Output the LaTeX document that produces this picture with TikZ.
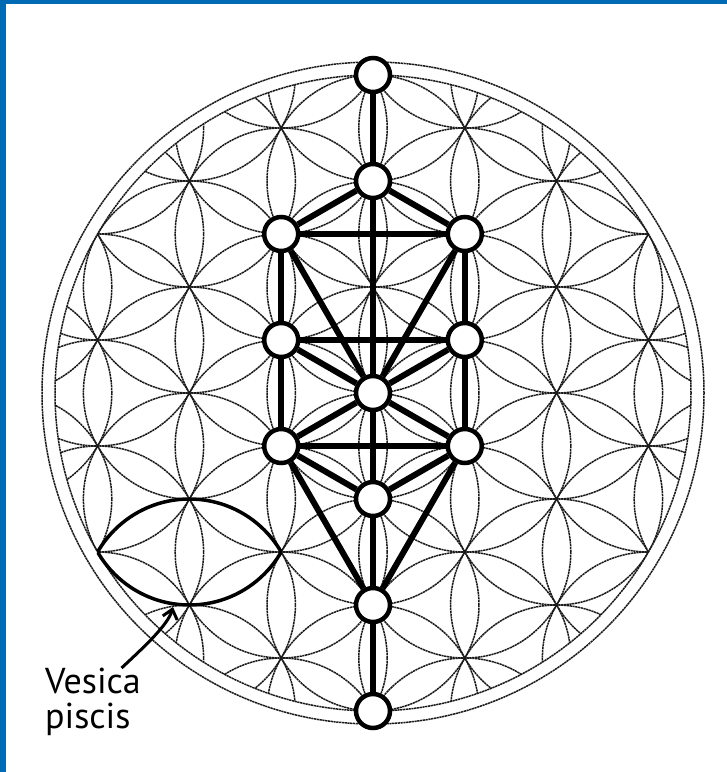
\documentclass[tikz,border=0pt]{standalone}
\usepackage{fontspec}
\setmainfont{PT Sans}
\usetikzlibrary{arrows.meta}
\definecolor{frameblue}{RGB}{0,106,180}

\begin{document}
\begin{tikzpicture}[x=1pt, y=-1pt,
    petal/.style={line width=1.5pt, black!90, dash pattern=on 2.2pt off 0.6pt},
    sefira/.style={circle, draw, fill=white, line width=4.5pt, minimum size=34pt, inner sep=0pt},
    channel/.style={line width=6pt},
    vesica/.style={line width=3.5pt},
    pointer/.style={line width=3pt, -{Straight Barb[length=9pt,width=15pt]}}]
    \useasboundingbox (0,0) rectangle (727,772);
    \fill[frameblue] (0,0) rectangle (727,4);
    \fill[frameblue] (0,0) rectangle (6,772);

    \coordinate (ctr) at (373,393);

    % --- Flower of life (lattice clipped to 3r) ---
    \begin{scope}
        \clip (ctr) circle[radius=318pt];
        \foreach \i in {-4,...,4}{
            \foreach \j in {-4,...,4}{
                \pgfmathsetmacro\cx{373+\i*91.8}
                \pgfmathsetmacro\cy{393+(\j+0.5*mod(abs(\i),2))*106}
                \draw[petal] (\cx,\cy) circle[radius=106pt];
            }
        }
    \end{scope}
    \draw[petal] (ctr) circle[radius=318pt];
    \draw[petal] (ctr) circle[radius=331pt];

    % --- Vesica piscis ---
    \coordinate (vtop) at (189.4,499);
    \coordinate (vbot) at (189.4,605);
    \begin{scope}
        \clip (vtop) circle[radius=106pt];
        \draw[vesica] (vbot) circle[radius=106pt];
    \end{scope}
    \begin{scope}
        \clip (vbot) circle[radius=106pt];
        \draw[vesica] (vtop) circle[radius=106pt];
    \end{scope}

    % --- Tree of life ---
    \node[sefira] (top)   at (373,75)    {};
    \node[sefira] (neck)  at (373,181)   {};
    \node[sefira] (lup)   at (281.2,234) {};
    \node[sefira] (rup)   at (464.8,234) {};
    \node[sefira] (lmid)  at (281.2,340) {};
    \node[sefira] (rmid)  at (464.8,340) {};
    \node[sefira] (heart) at (373,393)   {};
    \node[sefira] (llow)  at (281.2,446) {};
    \node[sefira] (rlow)  at (464.8,446) {};
    \node[sefira] (belly) at (373,499)   {};
    \node[sefira] (knee)  at (373,605)   {};
    \node[sefira] (root)  at (373,711)   {};

    \draw[channel] (top) -- (neck);
    \draw[channel] (neck) -- (lup);
    \draw[channel] (neck) -- (rup);
    \draw[channel] (lup) -- (rup);
    \draw[channel] (neck) -- (heart);
    \draw[channel] (lup) -- (lmid);
    \draw[channel] (rup) -- (rmid);
    \draw[channel] (lup) -- (heart);
    \draw[channel] (rup) -- (heart);
    \draw[channel] (lmid) -- (rmid);
    \draw[channel] (lmid) -- (heart);
    \draw[channel] (rmid) -- (heart);
    \draw[channel] (lmid) -- (llow);
    \draw[channel] (rmid) -- (rlow);
    \draw[channel] (heart) -- (llow);
    \draw[channel] (heart) -- (rlow);
    \draw[channel] (heart) -- (belly);
    \draw[channel] (llow) -- (rlow);
    \draw[channel] (llow) -- (belly);
    \draw[channel] (rlow) -- (belly);
    \draw[channel] (llow) -- (knee);
    \draw[channel] (rlow) -- (knee);
    \draw[channel] (belly) -- (knee);
    \draw[channel] (knee) -- (root);

    % --- Label ---
    \node[anchor=north west, align=left, inner sep=0pt, font=\fontsize{36}{35}\selectfont] (vlabel) at (45,668) {Vesica\\piscis};
    \coordinate (vtip) at (173,607);
    \draw[pointer] (vlabel.50) .. controls (143,648) and (168,625) .. (vtip);
\end{tikzpicture}
\end{document}
